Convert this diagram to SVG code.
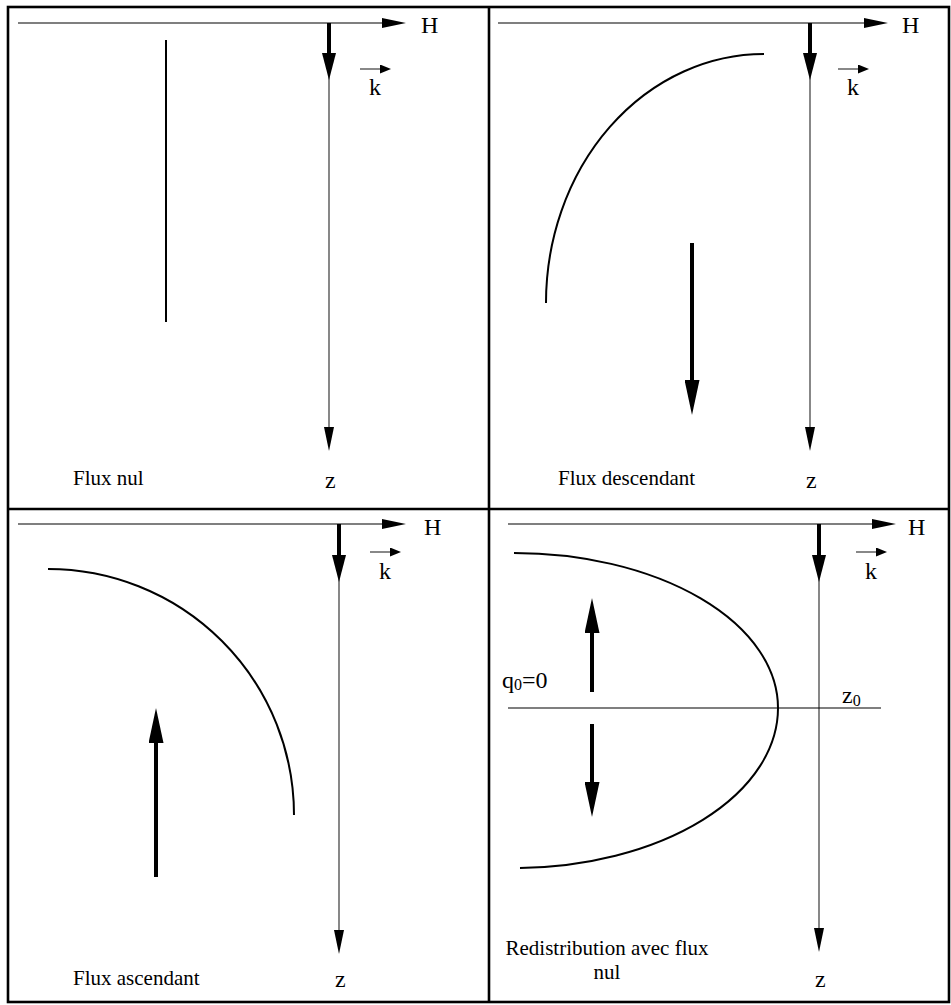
<svg xmlns="http://www.w3.org/2000/svg" width="951" height="1005" viewBox="0 0 951 1005">
<style>
text{font-family:'Liberation Serif','DejaVu Serif',serif;fill:#000}
.lbl{font-size:24px}
.cap{font-size:21px}
.ax{stroke:#555;stroke-width:1.4;fill:none}
.thk{stroke:#000;stroke-width:4;fill:none}
.crv{stroke:#000;stroke-width:2;fill:none}
.frame{stroke:#000;stroke-width:2.6;fill:none}
</style>
<defs>
<marker id="hThin" markerUnits="userSpaceOnUse" markerWidth="24" markerHeight="10" refX="0" refY="5" orient="auto"><path d="M0,0 L24,5 L0,10 Z" fill="#000"/></marker>
<marker id="hThick" markerUnits="userSpaceOnUse" markerWidth="27" markerHeight="14" refX="0" refY="7" orient="auto"><path d="M0,0 L27,7 L0,14 Z" fill="#000"/></marker>
<marker id="hSmall" markerUnits="userSpaceOnUse" markerWidth="11" markerHeight="9" refX="0" refY="4.5" orient="auto"><path d="M0,0 L11,4.5 L0,9 Z" fill="#000"/></marker>
<marker id="hBig" markerUnits="userSpaceOnUse" markerWidth="35" markerHeight="15" refX="0" refY="7.5" orient="auto"><path d="M0,0 L35,7.5 L0,15 Z" fill="#000"/></marker>
</defs>
<g id="frame">
<rect class="frame" x="8" y="7" width="941" height="995"/>
<line class="frame" x1="489" y1="7" x2="489" y2="1002"/>
<line class="frame" x1="8" y1="509" x2="949" y2="509"/>
</g>
<g id="connectors">
<line class="ax" x1="18" y1="23" x2="382" y2="23" marker-end="url(#hThin)"/>
<line class="ax" x1="329" y1="23" x2="329" y2="427" marker-end="url(#hThin)"/>
<line class="thk" x1="329" y1="23" x2="329" y2="53" marker-end="url(#hThick)"/>
<line class="ax" x1="360" y1="69" x2="380" y2="69" stroke="#000" marker-end="url(#hSmall)"/>
<line class="crv" x1="166" y1="40" x2="166" y2="322"/>
<line class="ax" x1="498" y1="23" x2="864" y2="23" marker-end="url(#hThin)"/>
<line class="ax" x1="810" y1="23" x2="810" y2="427" marker-end="url(#hThin)"/>
<line class="thk" x1="810" y1="23" x2="810" y2="53" marker-end="url(#hThick)"/>
<line class="ax" x1="838" y1="69" x2="858" y2="69" stroke="#000" marker-end="url(#hSmall)"/>
<path class="crv" d="M764,54 A218,249 0 0 0 546,303"/>
<line class="thk" x1="692" y1="243" x2="692" y2="380" marker-end="url(#hBig)"/>
<line class="ax" x1="18" y1="524" x2="382" y2="524" marker-end="url(#hThin)"/>
<line class="ax" x1="339" y1="524" x2="339" y2="930" marker-end="url(#hThin)"/>
<line class="thk" x1="339" y1="524" x2="339" y2="555" marker-end="url(#hThick)"/>
<line class="ax" x1="370" y1="552" x2="390" y2="552" stroke="#000" marker-end="url(#hSmall)"/>
<path class="crv" d="M48,569 A246,246 0 0 1 294,815"/>
<line class="thk" x1="156" y1="877" x2="156" y2="743" marker-end="url(#hBig)"/>
<line class="ax" x1="508" y1="524" x2="872" y2="524" marker-end="url(#hThin)"/>
<line class="ax" x1="819" y1="524" x2="819" y2="928" marker-end="url(#hThin)"/>
<line class="thk" x1="819" y1="524" x2="819" y2="555" marker-end="url(#hThick)"/>
<line class="ax" x1="856" y1="552" x2="876" y2="552" stroke="#000" marker-end="url(#hSmall)"/>
<path class="crv" d="M514,553 A264,155 0 0 1 778,708 A264,160 0 0 1 520,868"/>
<line x1="508" y1="708" x2="881" y2="708" stroke="#000" stroke-width="1.2"/>
<line class="thk" x1="592" y1="692" x2="592" y2="633" marker-end="url(#hBig)"/>
<line class="thk" x1="592" y1="724" x2="592" y2="782" marker-end="url(#hBig)"/>
</g>
<g id="panel-tl">
<text class="lbl" x="421" y="33">H</text>
<text class="lbl" x="369" y="95">k</text>
<text class="lbl" x="325" y="488">z</text>
<text class="cap" x="73" y="485">Flux nul</text>
</g>
<g id="panel-tr">
<text class="lbl" x="902" y="33">H</text>
<text class="lbl" x="847" y="95">k</text>
<text class="lbl" x="806" y="488">z</text>
<text class="cap" x="558" y="485">Flux descendant</text>
</g>
<g id="panel-bl">
<text class="lbl" x="424" y="535">H</text>
<text class="lbl" x="379" y="579">k</text>
<text class="lbl" x="335" y="987">z</text>
<text class="cap" x="73" y="985">Flux ascendant</text>
</g>
<g id="panel-br">
<text class="lbl" x="908" y="535">H</text>
<text class="lbl" x="865" y="579">k</text>
<text class="lbl" x="815" y="987">z</text>
<text class="lbl" x="502" y="688">q<tspan font-size="16" dy="2">0</tspan><tspan dy="-2">=0</tspan></text>
<text class="lbl" x="842" y="703">z<tspan font-size="16" dy="3">0</tspan></text>
<text class="cap" x="607" y="955" text-anchor="middle">Redistribution avec flux</text>
<text class="cap" x="607" y="979" text-anchor="middle">nul</text>
</g>
</svg>
